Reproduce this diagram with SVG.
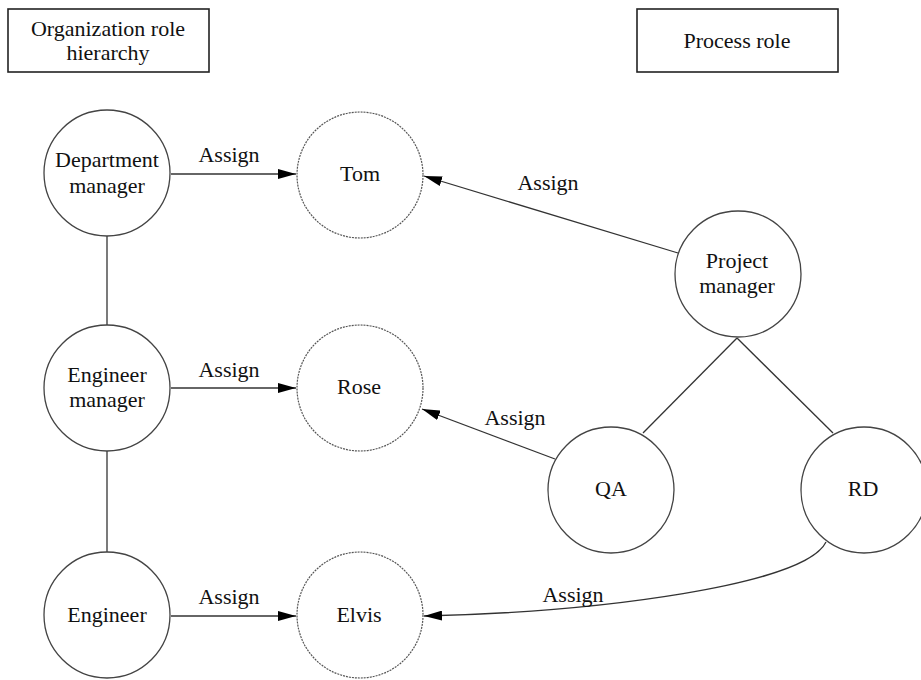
<svg xmlns="http://www.w3.org/2000/svg" width="921" height="680" viewBox="0 0 921 680" font-family="Liberation Serif, Times New Roman, serif" font-size="22">
<style>
text{fill:#111;text-anchor:middle}
.box{fill:#fff;stroke:#222;stroke-width:1.6}
.role{fill:#fff;stroke:#444;stroke-width:1.3}
.person{fill:#fff;stroke:#555;stroke-width:1.2;stroke-dasharray:2 1}
.ln{fill:none;stroke:#333;stroke-width:1.3}
.ar{fill:none;stroke:#333;stroke-width:1.3;marker-end:url(#ah)}
</style>
<defs>
<marker id="ah" viewBox="0 0 18 10" refX="18" refY="5" markerWidth="18" markerHeight="10" markerUnits="userSpaceOnUse" orient="auto">
<path d="M0,0 L18,5 L0,10 Z" fill="#000"/>
</marker>
</defs>
<rect width="921" height="680" fill="#fff"/>
<g id="connectors">
<line class="ln" x1="107" y1="236" x2="107" y2="325"/>
<line class="ln" x1="107" y1="451" x2="107" y2="552"/>
<line class="ln" x1="737" y1="338" x2="643" y2="433"/>
<line class="ln" x1="737" y1="338" x2="833" y2="433"/>
<line class="ar" x1="171" y1="174" x2="296" y2="174"/>
<line class="ar" x1="171" y1="388" x2="296" y2="388"/>
<line class="ar" x1="171" y1="616" x2="296" y2="616"/>
<line class="ar" x1="678" y1="253" x2="424" y2="176"/>
<line class="ar" x1="555" y1="459" x2="422" y2="409"/>
<path class="ar" d="M826,542 C805,585 600,612 424,616"/>
<text x="229" y="162">Assign</text>
<text x="229" y="377">Assign</text>
<text x="229" y="604">Assign</text>
<text x="548" y="190">Assign</text>
<text x="515" y="425">Assign</text>
<text x="573" y="602">Assign</text>
</g>
<g id="org-title"><rect class="box" x="8" y="9" width="201" height="63"/><text x="108" y="36">Organization role</text><text x="108" y="60">hierarchy</text></g>
<g id="process-title"><rect class="box" x="637" y="9" width="201" height="63"/><text x="737" y="48">Process role</text></g>
<g id="dept-manager"><circle class="role" cx="107" cy="173" r="63"/><text x="107" y="167">Department</text><text x="107" y="193">manager</text></g>
<g id="eng-manager"><circle class="role" cx="107" cy="388" r="63"/><text x="107" y="382">Engineer</text><text x="107" y="407">manager</text></g>
<g id="engineer"><circle class="role" cx="107" cy="615" r="63"/><text x="107" y="622">Engineer</text></g>
<g id="tom"><circle class="person" cx="360" cy="175" r="63"/><text x="360" y="181">Tom</text></g>
<g id="rose"><circle class="person" cx="360" cy="388" r="63"/><text x="359" y="394">Rose</text></g>
<g id="elvis"><circle class="person" cx="360" cy="615" r="63"/><text x="359" y="622">Elvis</text></g>
<g id="project-manager"><circle class="role" cx="738" cy="274" r="63"/><text x="737" y="268">Project</text><text x="737" y="293">manager</text></g>
<g id="qa"><circle class="role" cx="611" cy="490" r="63"/><text x="611" y="496">QA</text></g>
<g id="rd"><circle class="role" cx="864" cy="490" r="63"/><text x="863" y="496">RD</text></g>
</svg>
